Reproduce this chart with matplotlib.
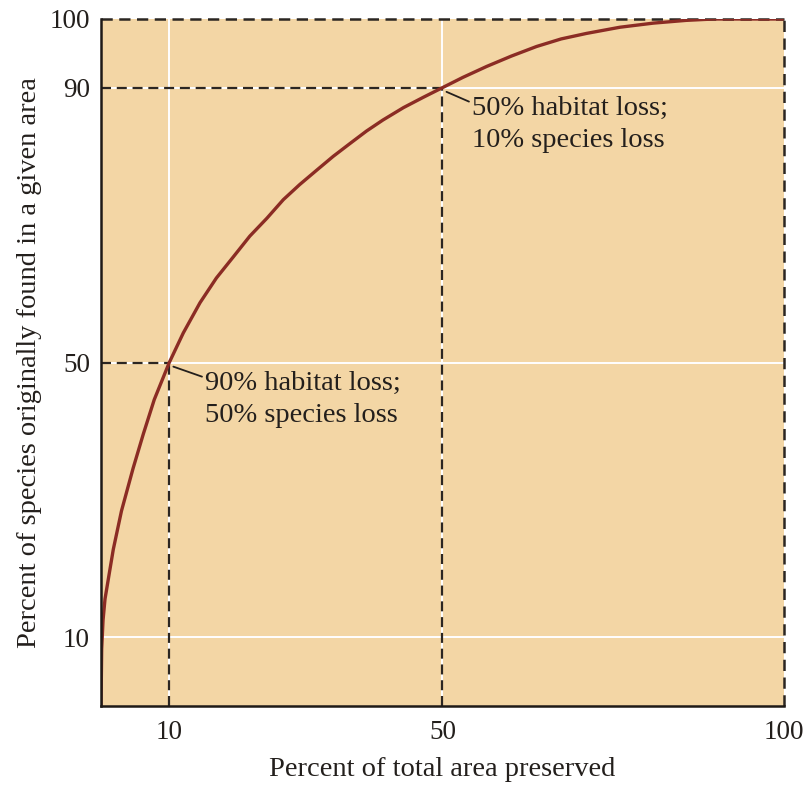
import matplotlib
matplotlib.use("Agg")
import matplotlib.pyplot as plt

# Data
area_preserved = [0, 0.1, 0.3, 0.59, 1.8, 3.0, 4.7, 6.2, 7.8, 10, 12.05, 14.5, 16.9, 19.4,
                  21.8, 24.3, 26.7, 29.1, 31.6, 34, 36.5, 38.9, 41.3, 44.3, 47.2, 50,
                  53, 56.5, 60.1, 63.8, 67.4, 71.1, 76, 80.9, 85.7, 89.7, 100]
species_pct = [0, 8.3, 12.5, 15.6, 22.8, 28.4, 34.6, 39.6, 44.6, 50, 54.3, 58.7, 62.3, 65.4,
               68.4, 71.0, 73.7, 75.9, 78, 80, 81.9, 83.7, 85.3, 87.1, 88.6, 90,
               91.5, 93.1, 94.6, 96, 97.1, 97.9, 98.8, 99.4, 99.8, 100, 100]

x_ticks = [10, 50, 100]
y_ticks = [10, 50, 90, 100]
x_tick_labels = ["10", "50", "100"]
y_tick_labels = ["10", "50", "90", "100"]

# reference points (area, species)
ref_points_x = [10, 50]
ref_points_y = [50, 90]
annot_texts = ["90% habitat loss;\n50% species loss", "50% habitat loss;\n10% species loss"]

plt.rcParams['font.family'] = ['Liberation Serif', 'DejaVu Serif']

fig = plt.figure(figsize=(8.08, 7.85), dpi=100)
ax = fig.add_axes([0.125, 0.1006, 0.845, 0.8752])

bg = '#F3D6A5'
curve_col = '#8B2C24'
dash_col = '#2B2622'
txt_col = '#231F1C'
ax.set_facecolor(bg)
ax.set_xlim(0, 100)
ax.set_ylim(0, 100)

# white grid lines
for xt in [10, 50]:
    ax.axvline(xt, color='white', lw=1.4, zorder=1)
for yt in [10, 50, 90]:
    ax.axhline(yt, color='white', lw=1.4, zorder=1)

dash = (0, (4.5, 2.6))
# dashed guide lines to reference points
for px, py in zip(ref_points_x, ref_points_y):
    ax.plot([px, px], [0, py], color=dash_col, lw=1.6, linestyle=dash, zorder=2)
    ax.plot([0, px], [py, py], color=dash_col, lw=1.6, linestyle=dash, zorder=2)
# dashed top and right border
ax.plot([0, 100], [100, 100], color=dash_col, lw=1.8, linestyle=dash, zorder=2, clip_on=False)
ax.plot([100, 100], [0, 100], color=dash_col, lw=1.8, linestyle=dash, zorder=2, clip_on=False)

ax.plot(area_preserved, species_pct, color=curve_col, lw=2.4, zorder=3,
        solid_joinstyle='round', solid_capstyle='butt')

# annotations
offsets = [(5.2, -1.2), (4.3, -1.2)]
for (px, py), txt, (dx, dy) in zip(zip(ref_points_x, ref_points_y), annot_texts, offsets):
    ax.annotate(txt, xy=(px + 0.6, py - 0.6), xytext=(px + dx, py + dy),
                fontsize=20.5, color=txt_col, va='top', ha='left', linespacing=1.38,
                arrowprops=dict(arrowstyle='-', color=txt_col, lw=1.3,
                                shrinkA=0, shrinkB=0, relpos=(0, 0.88)),
                zorder=4)

for s in ['top', 'right']:
    ax.spines[s].set_visible(False)
for s in ['left', 'bottom']:
    ax.spines[s].set_linewidth(1.8)
    ax.spines[s].set_color('#1E1A17')
    ax.spines[s].set_zorder(5)

ax.set_xticks(x_ticks)
ax.set_xticklabels(x_tick_labels)
ax.set_yticks(y_ticks)
ax.set_yticklabels(y_tick_labels)
ax.tick_params(length=0, labelsize=19.5, colors=txt_col)
ax.tick_params(axis='x', pad=10)
ax.tick_params(axis='y', pad=8)

ax.set_xlabel("Percent of total area preserved", fontsize=20.5, color=txt_col, labelpad=9)
ax.set_ylabel("Percent of species originally found in a given area", fontsize=20.5, color=txt_col, labelpad=5)

fig.savefig("out.png", dpi=100, facecolor='white')
